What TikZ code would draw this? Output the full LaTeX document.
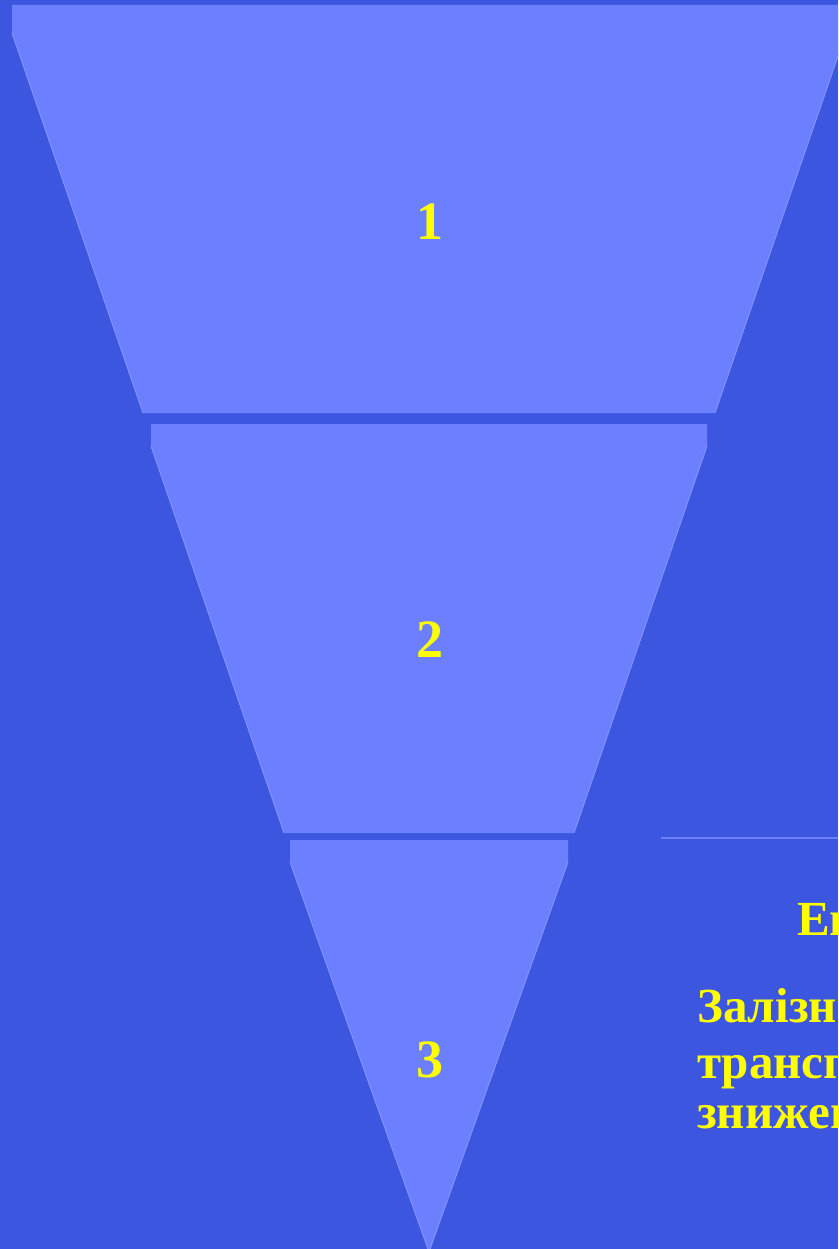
\documentclass[tikz,border=0pt]{standalone}
\usepackage{fontspec}
\setmainfont{Liberation Serif}
\definecolor{bgblue}{HTML}{3D56E0}
\definecolor{fillblue}{HTML}{6B7FFF}
\definecolor{edgeblue}{HTML}{8494FF}
\definecolor{txtyellow}{HTML}{FFFF00}
\tikzset{
  x=1pt, y=-1pt,
  piece/.style={fill=fillblue, draw=none},
  edge/.style={draw=edgeblue, line width=0.9pt},
  numlabel/.style={text=txtyellow, font=\fontsize{54}{60}\selectfont\bfseries, inner sep=0pt},
  sidetext/.style={text=txtyellow, font=\fontsize{49}{55}\selectfont\bfseries, inner sep=0pt, anchor=base west},
}
\begin{document}
\begin{tikzpicture}
\useasboundingbox (0,0) rectangle (838,1249);
\clip (0,0) rectangle (838,1249);
\fill[bgblue] (0,0) rectangle (838,1249);
% piece 1
\path[piece] (12,5) -- (846,5) -- (846,33) -- (715,413) -- (143,413) -- (12,33) -- cycle;
\draw[edge] (12,33) -- (143,413);
\draw[edge] (846,33) -- (715,413);
% piece 2
\path[piece] (151,424) -- (707,424) -- (707,446) -- (574,833) -- (284,833) -- (151,446) -- cycle;
\draw[edge] (151,446) -- (284,833);
\draw[edge] (707,446) -- (574,833);
% piece 3
\path[piece] (290,840) -- (568,840) -- (568,862) -- (429,1252) -- (290,862) -- cycle;
\draw[edge] (290,862) -- (429,1252);
\draw[edge] (568,862) -- (429,1252);
% labels
\node[numlabel] (n1) at (430,222) {1};
\node[numlabel] (n2) at (430,640) {2};
\node[numlabel] (n3) at (430,1060) {3};
% separator line
\coordinate (s1) at (661,838);
\coordinate (s2) at (840,838);
\draw[fillblue, line width=2pt] (s1) -- (s2);
% side text
\node[sidetext] (t0) at (797,935) {Енергетика};
\node[sidetext] (t1) at (697,1022) {Залізничний};
\node[sidetext] (t2) at (697,1078) {транспорт};
\node[sidetext] (t3) at (697,1128) {зниження};
\end{tikzpicture}
\end{document}
